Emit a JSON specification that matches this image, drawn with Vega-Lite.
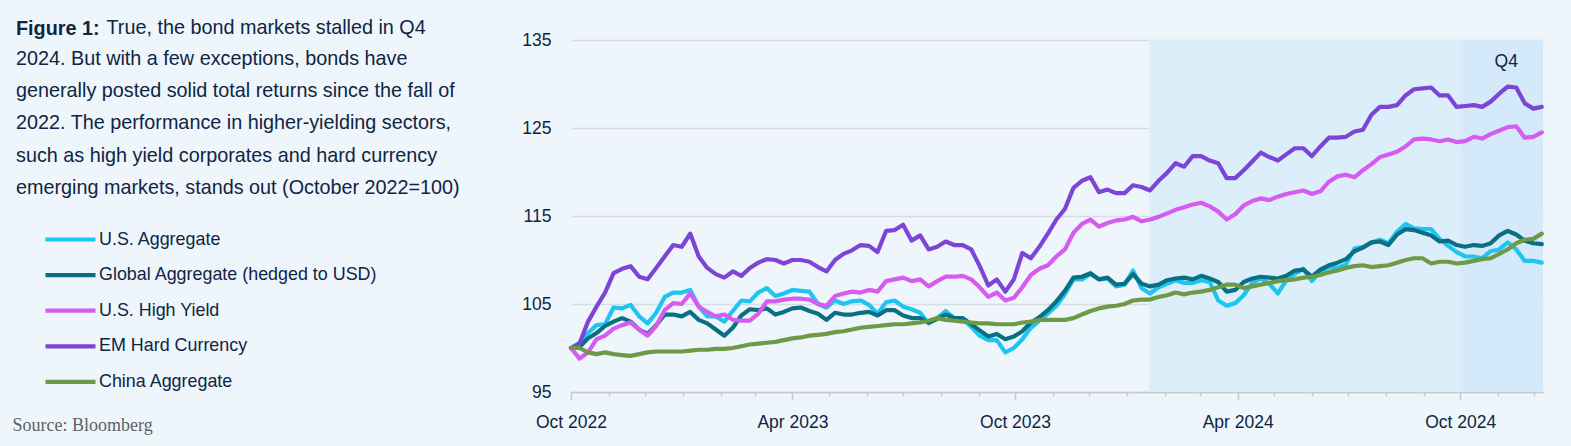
{
  "$schema": "https://vega.github.io/schema/vega-lite/v6.json",
  "width": 972,
  "height": 352,
  "autosize": {"type": "none"},
  "padding": {"left": 571, "top": 40, "right": 28, "bottom": 54},
  "background": "#EEF6FC",
  "title": {
    "text": "Figure 1:",
    "subtitle": [
      "2024. But with a few exceptions, bonds have",
      "generally posted solid total returns since the fall of",
      "2022. The performance in higher-yielding sectors,",
      "such as high yield corporates and hard currency",
      "emerging markets, stands out (October 2022=100)"
    ],
    "anchor": "start",
    "frame": "group",
    "orient": "top",
    "offset": 0,
    "dx": -555,
    "dy": 181,
    "baseline": "top",
    "font": "Liberation Sans, Arial, sans-serif",
    "fontSize": 19.8,
    "lineHeight": 19.8,
    "fontWeight": "bold",
    "color": "#0F2544",
    "subtitleFont": "Liberation Sans, Arial, sans-serif",
    "subtitleFontSize": 19.8,
    "subtitleColor": "#0F2544",
    "subtitleLineHeight": 32.4,
    "subtitlePadding": 10
  },
  "config": {
    "view": {"stroke": null},
    "font": "Liberation Sans, Arial, sans-serif",
    "axisX": {
      "domainColor": "#C3C9CF",
      "domainWidth": 1.5,
      "tickColor": "#C3C9CF",
      "tickWidth": 1.5,
      "labelFontSize": 17.5,
      "labelColor": "#0F2544",
      "labelPadding": 13,
      "labelOverlap": false,
      "labelFlush": false,
      "grid": false,
      "titleFont": "Liberation Serif",
      "titleFontSize": 18,
      "titleFontWeight": "normal",
      "titleColor": "#606060",
      "titleX": -559,
      "titleY": 38,
      "titleAlign": "left",
      "titleBaseline": "alphabetic",
      "titleAnchor": null
    },
    "axisY": {
      "domain": false,
      "ticks": false,
      "gridColor": "#D6DCE2",
      "gridWidth": 1.5,
      "labelFontSize": 17.5,
      "labelColor": "#0F2544",
      "labelPadding": 20,
      "titleFontSize": 19.8,
      "titleFontWeight": "normal",
      "titleColor": "#0F2544",
      "titleAngle": 0,
      "titleX": -465,
      "titleY": -7,
      "titleAlign": "left",
      "titleBaseline": "alphabetic",
      "titleAnchor": null
    }
  },
  "layer": [
    {
      "data": {"values": [
        {"start": "2024-01-19", "end": "2024-10-01", "kind": "span"},
        {"start": "2024-10-01", "end": "2024-12-08", "kind": "q4"}
      ]},
      "mark": {"type": "rect"},
      "encoding": {
        "x": {"field": "start", "type": "temporal", "title": "Source: Bloomberg", "scale": {"type": "utc", "domain": ["2022-10-01", "2024-12-08"]}},
        "x2": {"field": "end"},
        "fill": {"field": "kind", "type": "nominal", "scale": {"domain": ["span", "q4"], "range": ["#DDEEFB", "#D4E9F9"]}, "legend": null}
      }
    },
    {
      "data": {"values": [
        {"d":"2022-10-01","a":100.0,"b":100.0,"c":100.0,"e":100.0,"f":100.0},
        {"d":"2022-10-08","a":100.6,"b":100.1,"c":98.8,"e":100.5,"f":100.0},
        {"d":"2022-10-15","a":101.7,"b":101.1,"c":99.5,"e":103.0,"f":99.5},
        {"d":"2022-10-22","a":102.6,"b":101.7,"c":101.0,"e":104.7,"f":99.3},
        {"d":"2022-10-29","a":102.7,"b":102.5,"c":101.4,"e":106.3,"f":99.5},
        {"d":"2022-11-05","a":104.6,"b":103.0,"c":102.2,"e":108.5,"f":99.3},
        {"d":"2022-11-12","a":104.5,"b":103.4,"c":102.6,"e":109.0,"f":99.2},
        {"d":"2022-11-19","a":104.9,"b":103.0,"c":102.9,"e":109.3,"f":99.1},
        {"d":"2022-11-26","a":103.6,"b":102.1,"c":102.1,"e":108.1,"f":99.3},
        {"d":"2022-12-03","a":102.8,"b":101.6,"c":101.4,"e":107.8,"f":99.5},
        {"d":"2022-12-10","a":104.0,"b":102.6,"c":102.5,"e":109.1,"f":99.6},
        {"d":"2022-12-17","a":105.8,"b":103.8,"c":104.3,"e":110.4,"f":99.6},
        {"d":"2022-12-24","a":106.3,"b":103.8,"c":105.1,"e":111.7,"f":99.6},
        {"d":"2022-12-31","a":106.3,"b":103.6,"c":105.0,"e":111.5,"f":99.6},
        {"d":"2023-01-07","a":106.6,"b":104.1,"c":106.2,"e":113.0,"f":99.7},
        {"d":"2023-01-14","a":104.7,"b":103.2,"c":104.7,"e":110.4,"f":99.8},
        {"d":"2023-01-21","a":103.6,"b":102.8,"c":104.1,"e":109.1,"f":99.8},
        {"d":"2023-01-28","a":103.6,"b":102.1,"c":103.6,"e":108.4,"f":99.9},
        {"d":"2023-02-04","a":103.0,"b":101.4,"c":103.8,"e":108.0,"f":99.9},
        {"d":"2023-02-11","a":104.2,"b":102.3,"c":103.2,"e":108.7,"f":100.0},
        {"d":"2023-02-18","a":105.4,"b":103.7,"c":103.1,"e":108.2,"f":100.2},
        {"d":"2023-02-25","a":105.3,"b":104.4,"c":103.1,"e":109.1,"f":100.4},
        {"d":"2023-03-04","a":106.3,"b":104.3,"c":103.9,"e":109.7,"f":100.5},
        {"d":"2023-03-11","a":106.8,"b":104.5,"c":105.3,"e":110.1,"f":100.6},
        {"d":"2023-03-18","a":105.9,"b":103.8,"c":105.3,"e":110.0,"f":100.7},
        {"d":"2023-03-25","a":106.2,"b":104.1,"c":105.5,"e":109.6,"f":100.9},
        {"d":"2023-04-01","a":106.6,"b":104.5,"c":105.6,"e":110.0,"f":101.1},
        {"d":"2023-04-08","a":106.5,"b":104.6,"c":105.6,"e":110.0,"f":101.2},
        {"d":"2023-04-15","a":106.4,"b":104.2,"c":105.5,"e":109.8,"f":101.4},
        {"d":"2023-04-22","a":105.0,"b":103.9,"c":105.0,"e":109.2,"f":101.5},
        {"d":"2023-04-29","a":104.6,"b":103.2,"c":104.8,"e":108.7,"f":101.6},
        {"d":"2023-05-06","a":105.4,"b":104.0,"c":105.9,"e":110.0,"f":101.8},
        {"d":"2023-05-13","a":105.0,"b":103.8,"c":106.2,"e":110.7,"f":101.9},
        {"d":"2023-05-20","a":105.3,"b":103.8,"c":106.4,"e":111.1,"f":102.1},
        {"d":"2023-05-27","a":105.4,"b":104.0,"c":106.3,"e":111.7,"f":102.3},
        {"d":"2023-06-03","a":104.9,"b":104.1,"c":106.6,"e":111.6,"f":102.4},
        {"d":"2023-06-10","a":103.9,"b":103.7,"c":106.4,"e":110.9,"f":102.5},
        {"d":"2023-06-17","a":105.2,"b":104.3,"c":107.6,"e":113.3,"f":102.6},
        {"d":"2023-06-24","a":105.4,"b":104.3,"c":107.8,"e":113.4,"f":102.7},
        {"d":"2023-07-01","a":104.7,"b":103.7,"c":108.0,"e":114.0,"f":102.7},
        {"d":"2023-07-08","a":104.4,"b":103.4,"c":107.6,"e":112.2,"f":102.8},
        {"d":"2023-07-15","a":104.0,"b":103.4,"c":107.8,"e":112.8,"f":102.9},
        {"d":"2023-07-22","a":102.8,"b":102.9,"c":107.0,"e":111.2,"f":103.1},
        {"d":"2023-07-29","a":103.4,"b":103.3,"c":107.6,"e":111.5,"f":103.4},
        {"d":"2023-08-05","a":104.2,"b":103.8,"c":108.1,"e":112.1,"f":103.2},
        {"d":"2023-08-12","a":103.4,"b":103.4,"c":108.1,"e":111.7,"f":103.1},
        {"d":"2023-08-19","a":103.3,"b":103.4,"c":108.2,"e":111.7,"f":103.0},
        {"d":"2023-08-26","a":102.4,"b":102.7,"c":107.8,"e":111.2,"f":102.9},
        {"d":"2023-09-02","a":101.4,"b":102.0,"c":106.9,"e":109.3,"f":102.8},
        {"d":"2023-09-09","a":100.9,"b":101.3,"c":105.8,"e":107.1,"f":102.8},
        {"d":"2023-09-16","a":100.9,"b":101.6,"c":106.3,"e":107.8,"f":102.7},
        {"d":"2023-09-23","a":99.5,"b":101.0,"c":105.4,"e":106.4,"f":102.7},
        {"d":"2023-09-30","a":100.0,"b":101.3,"c":105.7,"e":107.8,"f":102.7},
        {"d":"2023-10-07","a":101.0,"b":101.9,"c":106.9,"e":110.8,"f":102.9},
        {"d":"2023-10-14","a":102.3,"b":102.9,"c":108.3,"e":110.2,"f":103.0},
        {"d":"2023-10-21","a":103.1,"b":103.5,"c":109.0,"e":111.5,"f":103.2},
        {"d":"2023-10-28","a":103.9,"b":104.3,"c":109.4,"e":113.0,"f":103.2},
        {"d":"2023-11-04","a":104.8,"b":105.3,"c":110.4,"e":114.6,"f":103.2},
        {"d":"2023-11-11","a":106.1,"b":106.5,"c":111.2,"e":115.8,"f":103.2},
        {"d":"2023-11-18","a":107.8,"b":108.0,"c":113.1,"e":118.2,"f":103.4},
        {"d":"2023-11-25","a":107.8,"b":108.1,"c":114.1,"e":119.0,"f":103.8},
        {"d":"2023-12-02","a":108.4,"b":108.5,"c":114.6,"e":119.4,"f":104.2},
        {"d":"2023-12-09","a":107.8,"b":107.8,"c":113.8,"e":117.7,"f":104.5},
        {"d":"2023-12-16","a":107.9,"b":108.0,"c":114.2,"e":118.0,"f":104.7},
        {"d":"2023-12-23","a":107.0,"b":107.2,"c":114.5,"e":117.6,"f":104.8},
        {"d":"2023-12-30","a":107.2,"b":107.3,"c":114.6,"e":117.6,"f":105.0},
        {"d":"2024-01-06","a":108.8,"b":108.4,"c":114.9,"e":118.5,"f":105.4},
        {"d":"2024-01-13","a":106.8,"b":107.3,"c":114.4,"e":118.3,"f":105.5},
        {"d":"2024-01-20","a":106.2,"b":107.0,"c":114.6,"e":117.9,"f":105.5},
        {"d":"2024-01-27","a":106.9,"b":107.2,"c":114.9,"e":119.0,"f":105.8},
        {"d":"2024-02-03","a":107.3,"b":107.7,"c":115.3,"e":119.9,"f":106.0},
        {"d":"2024-02-10","a":107.7,"b":107.9,"c":115.7,"e":121.0,"f":106.3},
        {"d":"2024-02-17","a":107.4,"b":108.0,"c":116.0,"e":120.6,"f":106.1},
        {"d":"2024-02-24","a":107.4,"b":107.8,"c":116.3,"e":121.8,"f":106.3},
        {"d":"2024-03-02","a":107.7,"b":108.2,"c":116.5,"e":121.8,"f":106.4},
        {"d":"2024-03-09","a":107.5,"b":107.9,"c":116.1,"e":121.3,"f":106.6},
        {"d":"2024-03-16","a":105.4,"b":107.5,"c":115.5,"e":121.0,"f":106.9},
        {"d":"2024-03-23","a":104.8,"b":106.4,"c":114.6,"e":119.3,"f":107.2},
        {"d":"2024-03-30","a":105.1,"b":106.6,"c":115.2,"e":119.3,"f":107.2},
        {"d":"2024-04-06","a":106.0,"b":107.5,"c":116.2,"e":120.2,"f":106.8},
        {"d":"2024-04-13","a":107.4,"b":107.9,"c":116.7,"e":121.2,"f":107.0},
        {"d":"2024-04-20","a":107.9,"b":108.1,"c":117.0,"e":122.2,"f":107.2},
        {"d":"2024-04-27","a":107.3,"b":108.0,"c":116.8,"e":121.7,"f":107.4},
        {"d":"2024-05-04","a":106.2,"b":107.9,"c":117.2,"e":121.3,"f":107.6},
        {"d":"2024-05-11","a":107.7,"b":108.2,"c":117.5,"e":122.0,"f":107.7},
        {"d":"2024-05-18","a":108.4,"b":108.8,"c":117.7,"e":122.7,"f":107.8},
        {"d":"2024-05-25","a":109.0,"b":108.9,"c":117.9,"e":122.7,"f":108.0},
        {"d":"2024-06-01","a":107.6,"b":108.1,"c":117.5,"e":121.8,"f":108.1},
        {"d":"2024-06-08","a":108.7,"b":108.9,"c":117.8,"e":122.9,"f":108.3},
        {"d":"2024-06-15","a":109.2,"b":109.4,"c":118.9,"e":123.9,"f":108.6},
        {"d":"2024-06-22","a":109.1,"b":109.7,"c":119.5,"e":123.9,"f":108.8},
        {"d":"2024-06-29","a":109.5,"b":110.1,"c":119.7,"e":124.0,"f":109.1},
        {"d":"2024-07-06","a":111.3,"b":111.0,"c":119.4,"e":124.6,"f":109.3},
        {"d":"2024-07-13","a":111.5,"b":111.4,"c":120.2,"e":124.8,"f":109.4},
        {"d":"2024-07-20","a":112.0,"b":112.0,"c":120.9,"e":126.5,"f":109.2},
        {"d":"2024-07-27","a":112.3,"b":112.1,"c":121.7,"e":127.4,"f":109.3},
        {"d":"2024-08-03","a":111.9,"b":111.7,"c":122.0,"e":127.4,"f":109.4},
        {"d":"2024-08-10","a":113.2,"b":112.9,"c":122.3,"e":127.6,"f":109.7},
        {"d":"2024-08-17","a":114.1,"b":113.5,"c":122.9,"e":128.7,"f":110.0},
        {"d":"2024-08-24","a":113.6,"b":113.4,"c":123.7,"e":129.4,"f":110.2},
        {"d":"2024-08-31","a":113.5,"b":113.1,"c":123.8,"e":129.5,"f":110.2},
        {"d":"2024-09-07","a":113.5,"b":112.8,"c":123.7,"e":129.6,"f":109.6},
        {"d":"2024-09-14","a":112.4,"b":112.1,"c":123.5,"e":128.7,"f":109.8},
        {"d":"2024-09-21","a":111.6,"b":112.2,"c":123.7,"e":128.7,"f":109.8},
        {"d":"2024-09-28","a":110.9,"b":111.7,"c":123.4,"e":127.4,"f":109.6},
        {"d":"2024-10-05","a":110.4,"b":111.5,"c":123.5,"e":127.5,"f":109.7},
        {"d":"2024-10-12","a":110.4,"b":111.7,"c":124.0,"e":127.6,"f":109.9},
        {"d":"2024-10-19","a":110.2,"b":111.6,"c":123.8,"e":127.4,"f":110.1},
        {"d":"2024-10-26","a":111.0,"b":111.9,"c":124.3,"e":128.0,"f":110.2},
        {"d":"2024-11-02","a":111.2,"b":112.8,"c":124.7,"e":128.9,"f":110.7},
        {"d":"2024-11-09","a":112.0,"b":113.3,"c":125.1,"e":129.7,"f":111.2},
        {"d":"2024-11-16","a":111.2,"b":112.9,"c":125.2,"e":129.6,"f":111.9},
        {"d":"2024-11-23","a":109.9,"b":112.2,"c":123.9,"e":127.8,"f":112.3},
        {"d":"2024-11-30","a":109.9,"b":111.9,"c":124.0,"e":127.2,"f":112.4},
        {"d":"2024-12-07","a":109.7,"b":111.8,"c":124.5,"e":127.4,"f":113.0}
      ]},
      "transform": [{"fold": ["a", "b", "c", "e", "f"], "as": ["series", "value"]}],
      "mark": {"type": "line", "strokeWidth": 4.2, "strokeJoin": "round", "strokeCap": "round"},
      "encoding": {
        "x": {
          "field": "d", "type": "temporal", "title": "Source: Bloomberg",
          "scale": {"type": "utc", "domain": ["2022-10-01", "2024-12-08"]},
          "axis": {
            "tickCount": {"interval": "month", "step": 1},
            "labelExpr": "utcmonth(datum.value) == 3 || utcmonth(datum.value) == 9 ? utcFormat(datum.value, '%b %Y') : ''",
            "tickSize": {"condition": {"test": "utcmonth(datum.value) == 3 || utcmonth(datum.value) == 9", "value": 8}, "value": 4}
          }
        },
        "y": {
          "field": "value", "type": "quantitative",
          "title": "True, the bond markets stalled in Q4",
          "scale": {"domain": [95, 135], "nice": false, "zero": false},
          "axis": {"values": [95, 105, 115, 125, 135]}
        },
        "color": {
          "field": "series", "type": "nominal",
          "scale": {"domain": ["a", "b", "c", "e", "f"], "range": ["#1EC5F1", "#0B6F83", "#D65CF0", "#7D45D7", "#6E9A46"]},
          "legend": {
            "title": null, "orient": "none", "legendX": -513, "legendY": 187,
            "symbolType": "M-2.5,0H2.5", "symbolSize": 400, "symbolStrokeWidth": 4.2,
            "labelFontSize": 17.9, "labelColor": "#0F2544", "labelOffset": 16, "labelLimit": 0,
            "rowPadding": 13.6, "padding": 0,
            "labelExpr": "datum.label == 'a' ? 'U.S. Aggregate' : datum.label == 'b' ? 'Global Aggregate (hedged to USD)' : datum.label == 'c' ? 'U.S. High Yield' : datum.label == 'e' ? 'EM Hard Currency' : 'China Aggregate'"
          }
        }
      }
    },
    {
      "data": {"values": [
        {"start": "2024-10-01", "label": "Q4"}
      ]},
      "mark": {"type": "text", "dx": 46, "fontSize": 17.5, "color": "#0F2544", "baseline": "middle"},
      "encoding": {
        "x": {"field": "start", "type": "temporal"},
        "y": {"datum": 132.5, "type": "quantitative"},
        "text": {"field": "label"}
      }
    }
  ]
}
